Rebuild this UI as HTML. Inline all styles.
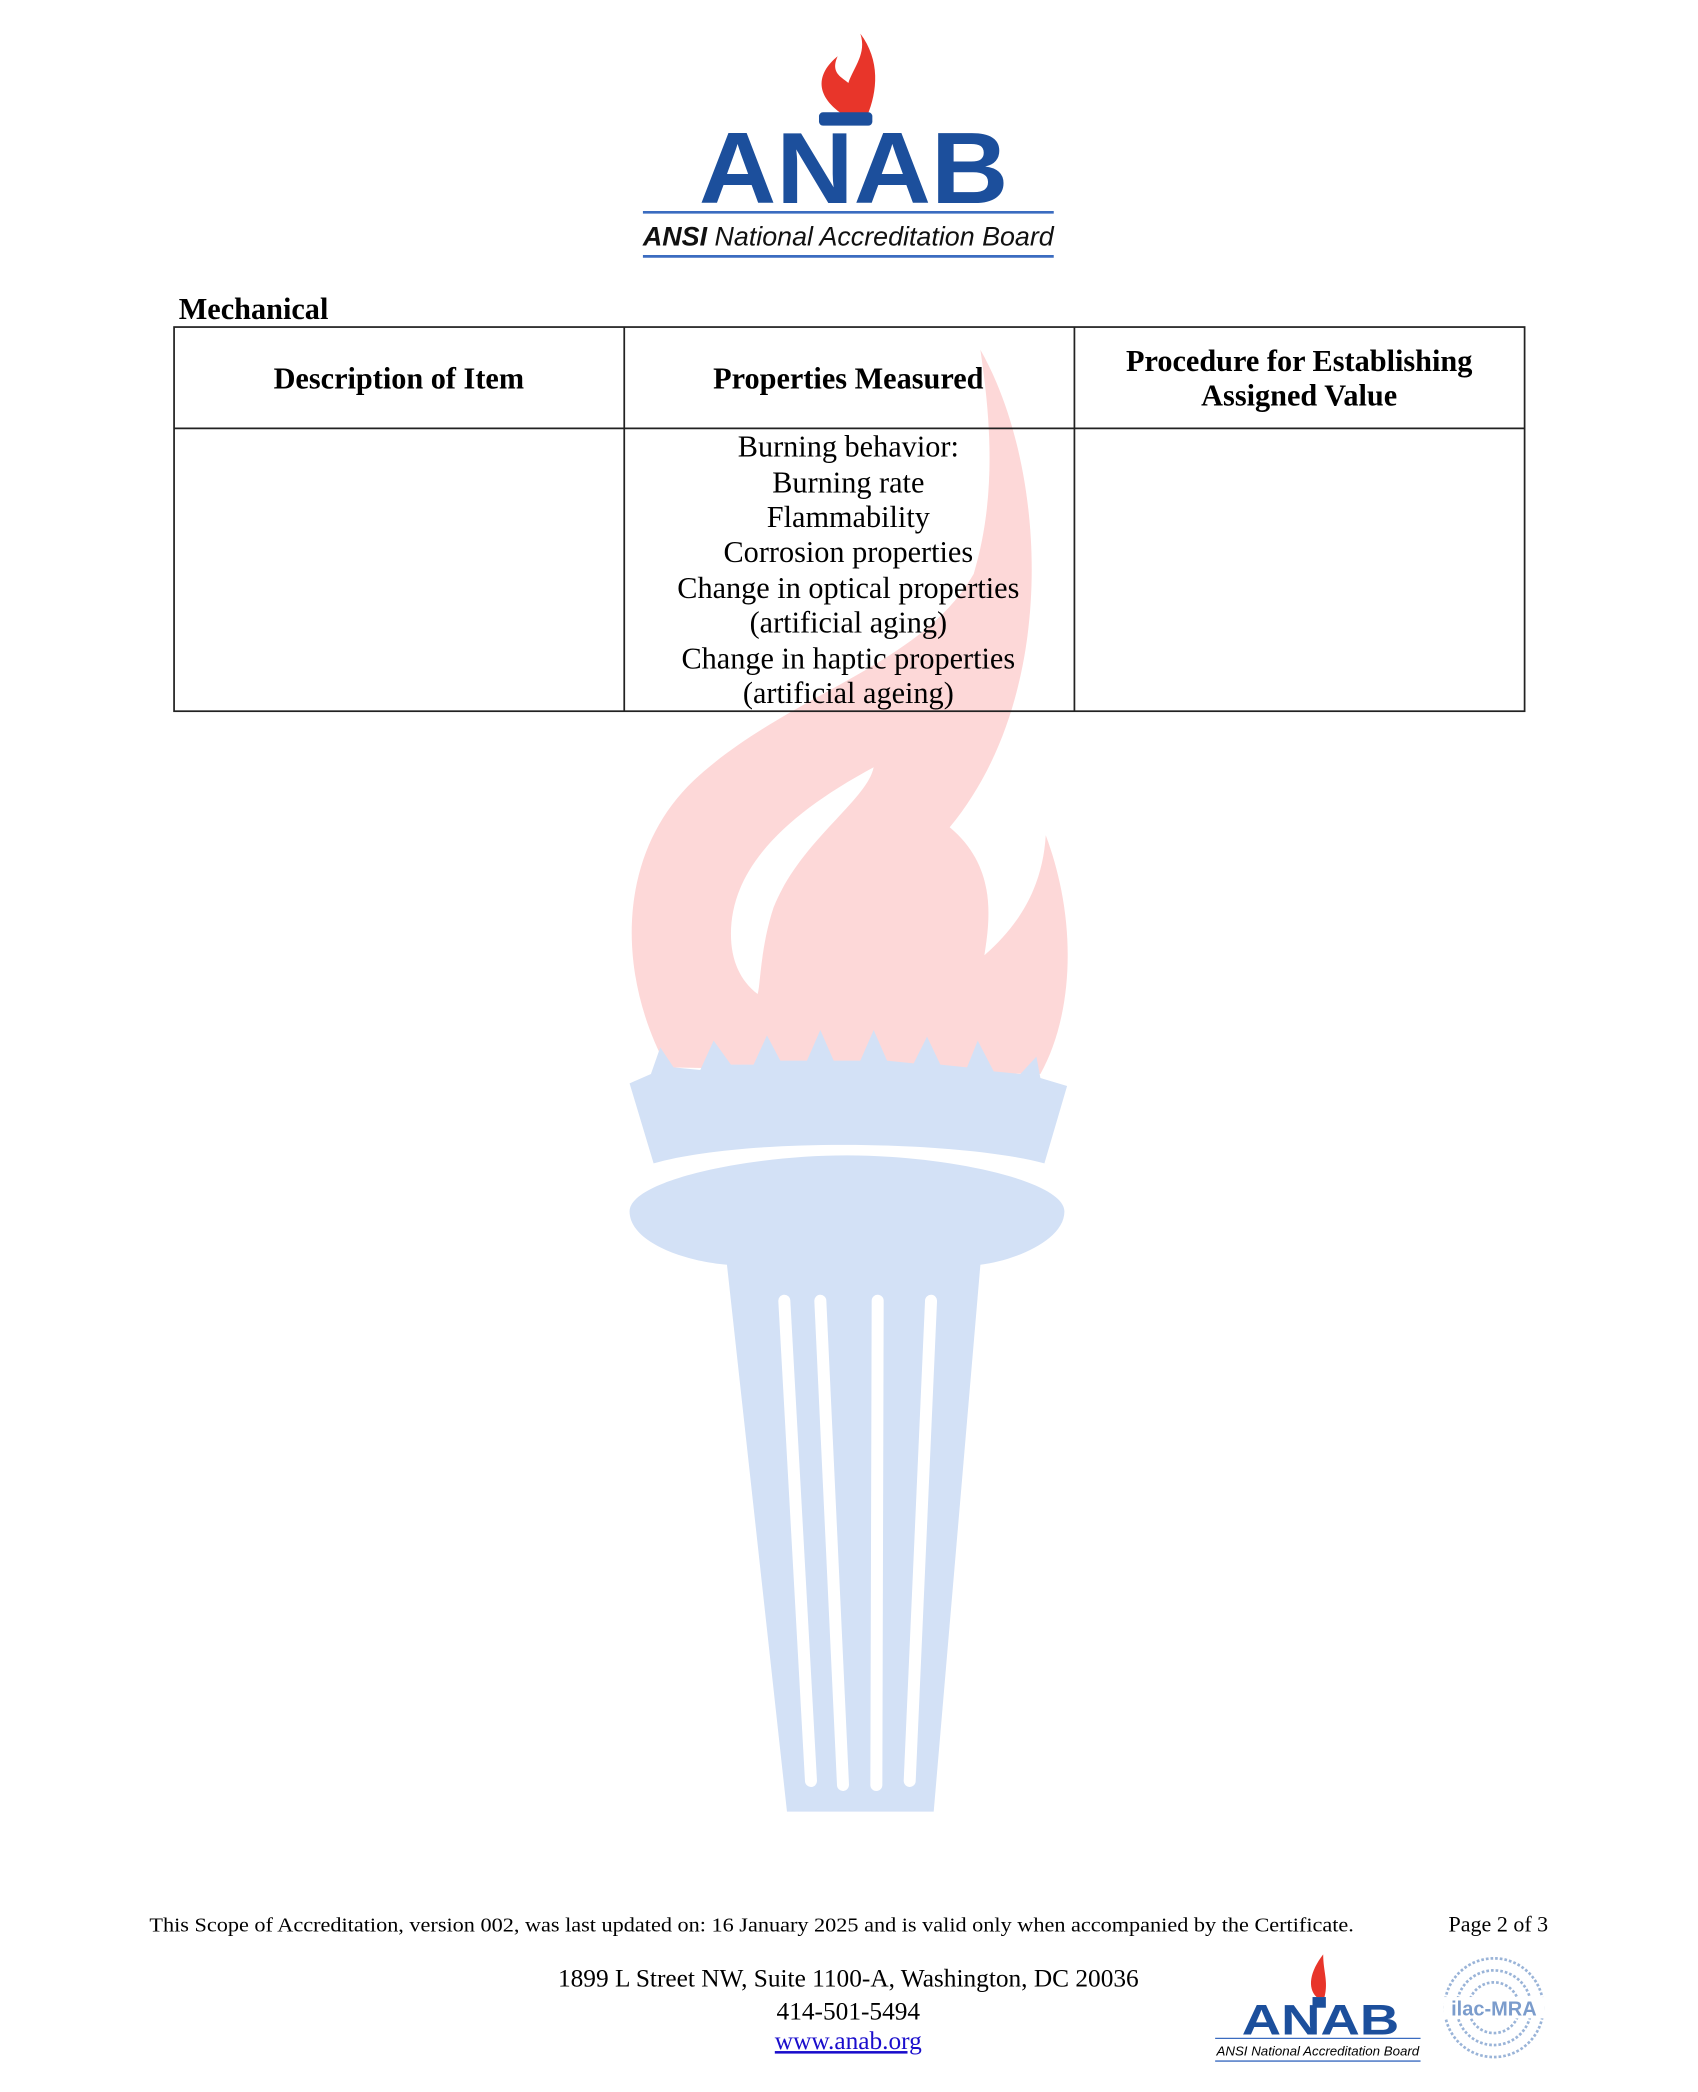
<!DOCTYPE html>
<html><head><meta charset="utf-8"><style>
html,body{margin:0;padding:0;background:#fff;}
svg{display:block;}
</style></head><body>
<svg width="1698" height="2092" viewBox="0 0 1273 1568" xmlns="http://www.w3.org/2000/svg">
<rect width="1273" height="1568" fill="#fff"/>
<!-- watermark -->
<g>
 <path d="M500,800 C462,730 462,640 520,585 C590,520 690,500 730,430 C748,370 742,310 735,262 C785,350 795,520 712,620 C748,650 742,690 738,716 C768,690 782,660 784,626 C808,690 805,760 780,805 Z" fill="#fdd8d8"/>
 <path d="M548,700 C548,650 590,610 655,575 C650,600 600,630 580,680 C570,710 570,740 568,745 C555,735 548,720 548,700 Z" fill="#fff"/>
 <path d="M472,812 L488,805 L495,785 L505,800 L525,802 L535,780 L548,798 L565,798 L575,776 L585,795 L605,795 L615,772 L625,795 L645,795 L655,772 L665,795 L685,797 L695,777 L705,798 L725,800 L733,780 L745,803 L765,805 L777,792 L780,808 L800,814 L783,872 C720,855 560,852 490,872 Z" fill="#d3e1f6"/>
 <path d="M472,908 C472,885 560,866 635,866 C710,866 798,885 798,908 C798,930 760,945 735,948 L700,1358 L590,1358 L545,948 C510,945 472,930 472,908 Z" fill="#d3e1f6"/>
 <g stroke="#fff" stroke-width="9" stroke-linecap="round">
  <line x1="588" y1="975" x2="608" y2="1335"/>
  <line x1="615" y1="975" x2="632" y2="1338"/>
  <line x1="658" y1="975" x2="657" y2="1338"/>
  <line x1="698" y1="975" x2="682" y2="1335"/>
 </g>
</g>
<!-- top logo -->
<path d="M634,87 C610,72 612,55 628,42 C622,55 632,58 636,62 C640,50 650,40 645,25 C660,45 658,68 650,87 Z" fill="#e8352a"/>
<rect x="614" y="84" width="40" height="10" rx="3" fill="#1c4f9c"/>
<text x="640" y="152" text-anchor="middle" font-family="Liberation Sans, sans-serif" font-weight="bold" font-size="76" fill="#1c4f9c" textLength="232" lengthAdjust="spacingAndGlyphs">ANAB</text>
<line x1="482" y1="159" x2="790" y2="159" stroke="#3b6cc0" stroke-width="2"/>
<text x="482" y="184" font-family="Liberation Sans, sans-serif" font-style="italic" font-size="20" fill="#111" textLength="308" lengthAdjust="spacingAndGlyphs"><tspan font-weight="bold">ANSI</tspan> National Accreditation Board</text>
<line x1="482" y1="192" x2="790" y2="192" stroke="#3b6cc0" stroke-width="2"/>
<!-- heading -->
<text x="134" y="239" font-family="Liberation Serif, serif" font-weight="bold" font-size="22.7">Mechanical</text>
<!-- table -->
<g stroke="#222" stroke-width="1.3" fill="none">
 <rect x="130.5" y="245" width="1012.5" height="288"/>
 <line x1="130.5" y1="321" x2="1143" y2="321"/>
 <line x1="468" y1="245" x2="468" y2="533"/>
 <line x1="805.5" y1="245" x2="805.5" y2="533"/>
</g>
<g font-family="Liberation Serif, serif" font-size="22.7" text-anchor="middle" fill="#000">
 <text x="299" y="291" font-weight="bold">Description of Item</text>
 <text x="636" y="291" font-weight="bold">Properties Measured</text>
 <text x="974" y="278" font-weight="bold">Procedure for Establishing</text>
 <text x="974" y="304" font-weight="bold">Assigned Value</text>
 <text x="636" y="342">Burning behavior:</text>
 <text x="636" y="369">Burning rate</text>
 <text x="636" y="395">Flammability</text>
 <text x="636" y="421">Corrosion properties</text>
 <text x="636" y="448">Change in optical properties</text>
 <text x="636" y="474">(artificial aging)</text>
 <text x="636" y="501">Change in haptic properties</text>
 <text x="636" y="527">(artificial ageing)</text>
</g>
<!-- footer -->
<g font-family="Liberation Serif, serif" fill="#000">
 <text x="112" y="1448" font-size="15" textLength="903" lengthAdjust="spacingAndGlyphs">This Scope of Accreditation, version 002, was last updated on: 16 January 2025 and is valid only when accompanied by the Certificate.</text>
 <text x="1086" y="1448" font-size="16.5">Page 2 of 3</text>
 <text x="636" y="1489" font-size="19" text-anchor="middle">1899 L Street NW, Suite 1100-A, Washington, DC  20036</text>
 <text x="636" y="1514" font-size="19" text-anchor="middle">414-501-5494</text>
 <text x="636" y="1536" font-size="19" text-anchor="middle" fill="#1a0dcc" text-decoration="underline">www.anab.org</text>
</g>
<!-- small logo -->
<path d="M987,1497 C980,1490 982,1478 992,1465 C992,1478 996,1485 993,1497 Z" fill="#e8352a"/>
<rect x="984" y="1497" width="10" height="8" fill="#1c4f9c"/>
<text x="990" y="1525" text-anchor="middle" font-family="Liberation Sans, sans-serif" font-weight="bold" font-size="32" fill="#1c4f9c" textLength="118" lengthAdjust="spacingAndGlyphs">ANAB</text>
<line x1="911" y1="1528" x2="1065" y2="1528" stroke="#3b6cc0" stroke-width="1"/>
<text x="912" y="1541" font-family="Liberation Sans, sans-serif" font-style="italic" font-size="9.5" textLength="152" lengthAdjust="spacingAndGlyphs">ANSI National Accreditation Board</text>
<line x1="911" y1="1545" x2="1065" y2="1545" stroke="#3b6cc0" stroke-width="1"/>
<g fill="none" stroke="#9ab4d8" stroke-width="2" stroke-dasharray="2 1.5">
 <circle cx="1120" cy="1505" r="37"/>
 <circle cx="1120" cy="1505" r="28"/>
 <circle cx="1120" cy="1505" r="19"/>
</g>
<rect x="1082" y="1497" width="76" height="16" fill="#fff"/>
<text x="1120" y="1511" text-anchor="middle" font-family="Liberation Sans, sans-serif" font-weight="bold" font-size="15" fill="#7b9ccc">ilac-MRA</text>
</svg>
</body></html>
